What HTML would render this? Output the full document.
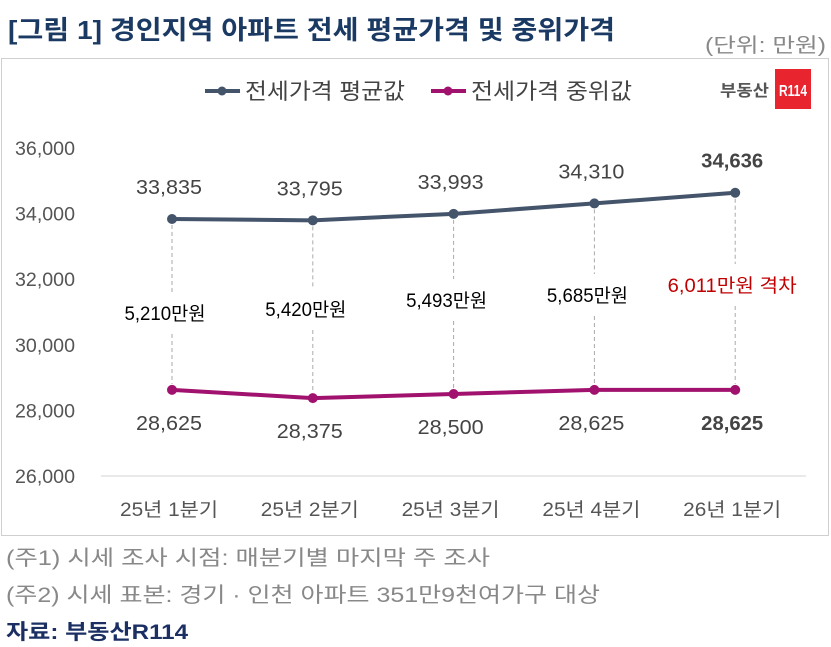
<!DOCTYPE html>
<html><head><meta charset="utf-8"><style>
body{margin:0;width:831px;height:647px;background:#fff;overflow:hidden;font-family:"Liberation Sans","Noto Sans CJK KR",sans-serif;}
</style></head><body>
<div style="position:absolute;left:1px;top:58px;width:826px;height:476px;border:1.5px solid #cfcfcf;"></div>
<svg id="c" width="831" height="647" style="position:absolute;left:0;top:0" font-family="Liberation Sans, Noto Sans CJK KR, sans-serif">
<text x="8" y="39" font-size="26" font-weight="bold" fill="#1b3a63" textLength="607" lengthAdjust="spacingAndGlyphs">[그림 1] 경인지역 아파트 전세 평균가격 및 중위가격</text>
<text x="705" y="52" font-size="20" fill="#888" textLength="121" lengthAdjust="spacingAndGlyphs">(단위: 만원)</text>
<g>
<line x1="205" y1="91" x2="240" y2="91" stroke="#44546a" stroke-width="4"/><circle cx="222" cy="91" r="4.5" fill="#44546a"/>
<text x="245" y="99" font-size="22" fill="#444" textLength="160" lengthAdjust="spacingAndGlyphs">전세가격 평균값</text>
<line x1="431" y1="91" x2="466" y2="91" stroke="#a0126e" stroke-width="4"/><circle cx="448" cy="91" r="4.5" fill="#a0126e"/>
<text x="471" y="99" font-size="22" fill="#444" textLength="161" lengthAdjust="spacingAndGlyphs">전세가격 중위값</text>
</g>
<g>
<text x="720" y="96" font-size="16" font-weight="bold" fill="#555" textLength="49" lengthAdjust="spacingAndGlyphs">부동산</text>
<rect x="775" y="69" width="36" height="40" fill="#e8252f"/>
<text x="793" y="96" font-size="16" font-weight="bold" fill="#fff" text-anchor="middle" textLength="28" lengthAdjust="spacingAndGlyphs">R114</text>
</g>
<line x1="101" y1="476" x2="806" y2="476" stroke="#e2e2e2" stroke-width="1.5"/>
<text x="6" y="565" font-size="21" fill="#888" textLength="484" lengthAdjust="spacingAndGlyphs">(주1) 시세 조사 시점: 매분기별 마지막 주 조사</text>
<text x="6" y="602" font-size="21" fill="#888" textLength="594" lengthAdjust="spacingAndGlyphs">(주2) 시세 표본: 경기 · 인천 아파트 351만9천여가구 대상</text>
<text x="6" y="639" font-size="21" font-weight="bold" fill="#1b2f63" textLength="182" lengthAdjust="spacingAndGlyphs">자료: 부동산R114</text>
</svg>
<script>
const categories=["25년 1분기","25년 2분기","25년 3분기","25년 4분기","26년 1분기"];
const meanValues=[33835,33795,33993,34310,34636];
const medianValues=[28625,28375,28500,28625,28625];
const gapLabels=["5,210만원","5,420만원","5,493만원","5,685만원","6,011만원"];
const yTicks=[26000,28000,30000,32000,34000,36000];
const svg=document.getElementById('c');const NS='http://www.w3.org/2000/svg';
const y=v=>148+(36000-v)*0.0328;
const x=i=>172+i*140.8;
const gapBase=[320,316,307,302,292];
function mk(t,a,txt){const e=document.createElementNS(NS,t);for(const k in a)e.setAttribute(k,a[k]);if(txt!==undefined)e.textContent=txt;svg.appendChild(e);return e;}
const fmt=v=>v.toLocaleString('en-US');
yTicks.forEach(v=>{const e=mk('text',{x:75,y:y(v)+7,'font-size':19,fill:'#555','text-anchor':'end',textLength:60,lengthAdjust:'spacingAndGlyphs'},fmt(v));

});
categories.forEach((c,i)=>{const e=mk('text',{x:x(i)-3,y:516,'font-size':19,fill:'#555','text-anchor':'middle',textLength:98,lengthAdjust:'spacingAndGlyphs'},c);


const gb=gapBase[i];
const d1=mk('line',{x1:x(i),y1:y(meanValues[i])+6,x2:x(i),y2:gb-28,stroke:'#aaa','stroke-dasharray':'4,3'});


const d2=mk('line',{x1:x(i),y1:gb+14,x2:x(i),y2:y(medianValues[i])-6,stroke:'#aaa','stroke-dasharray':'4,3'});


const last=i===categories.length-1;
const g=mk('text',{x:x(i)+(last?-3:-7),y:gb,'font-size':19,fill:last?'#c00000':'#000','text-anchor':'middle',textLength:last?129:81,lengthAdjust:'spacingAndGlyphs'},gapLabels[i]+(last?'  격차':''));


});
[[meanValues,'#44546a','mean-line',-25],[medianValues,'#a0126e','median-line',40]].forEach(([vals,col,nm,off],s)=>{
const p=mk('polyline',{points:vals.map((v,i)=>x(i)+','+y(v)).join(' '),fill:'none',stroke:col,'stroke-width':4});


vals.forEach((v,i)=>{const c=mk('circle',{cx:x(i),cy:y(v),r:5,fill:col});


const last=i===vals.length-1;
const t=mk('text',{x:x(i)-3,y:y(v)+off,'font-size':20,fill:'#444','text-anchor':'middle','font-weight':last?'bold':'normal',textLength:last?62:66,lengthAdjust:'spacingAndGlyphs'},fmt(v));

});
});
</script>
</body></html>
